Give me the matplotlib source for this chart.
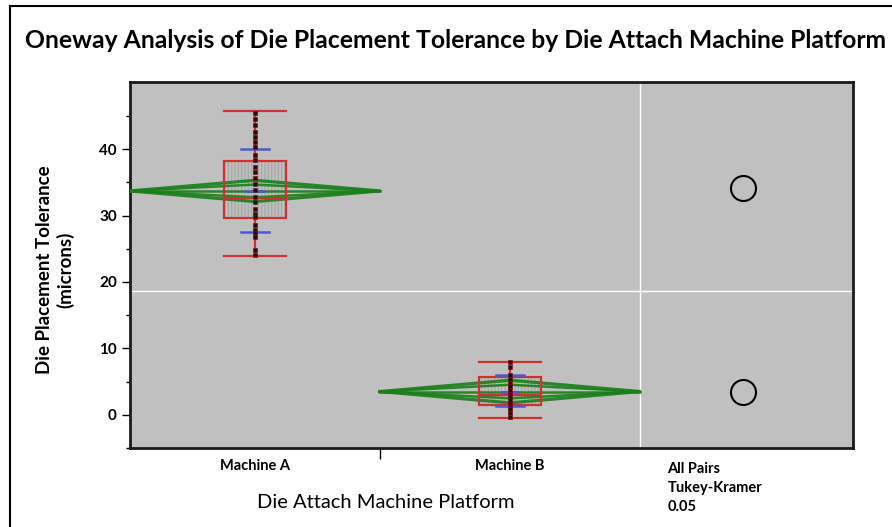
import matplotlib.pyplot as plt
import matplotlib.transforms as mtransforms
from matplotlib.patches import Rectangle
from matplotlib.lines import Line2D

plt.rcParams['font.family'] = ['Lato', 'DejaVu Sans']

# group summary values
groups = ['Machine A', 'Machine B']
means = [33.7, 3.5]
ci_low = [32.2, 1.8]
ci_high = [35.4, 5.2]
q1 = [29.6, 1.5]
medians = [32.6, 3.0]
q3 = [38.2, 5.7]
whisk_low = [23.9, -0.5]
whisk_high = [45.7, 7.9]
std_low = [27.5, 1.3]
std_high = [40.0, 6.0]
grand_mean = 18.7

points_a = [45.5, 44.6, 43.6, 42.6, 41.8, 41.1, 40.3, 39.1, 38.3, 37.3, 36.6,
            35.6, 34.8, 33.8, 32.8, 32.0, 31.0, 30.3, 29.8, 28.5, 27.8, 27.3,
            26.8, 24.8, 24.0]
points_b = [8.0, 7.2, 6.0, 5.4, 4.8, 4.3, 3.8, 3.2, 2.7, 2.2, 1.7, 1.2, 0.8,
            0.3, -0.4]
points = [points_a, points_b]

# circle centres for the comparison panel
circle_y = [34.1, 3.5]

# x layout: group A spans 0-1, B spans 1-2.04, circles panel 2.04-2.892
spans = [(0.0, 1.0), (1.0, 2.04)]
panel_x = 2.452
box_w = 0.25
std_w = 0.11

fig = plt.figure(figsize=(8.92, 5.27), dpi=100)
ax = fig.add_axes([130 / 892, 1 - 448 / 527, 723 / 892, 366 / 527])
ax.set_facecolor('#c0c0c0')
ax.set_xlim(0, 2.892)
ax.set_ylim(-5, 50.1)

# reference lines
ax.axhline(grand_mean, color='white', lw=1, zorder=1)
ax.axvline(spans[1][1], color='white', lw=1, zorder=1)

green = '#1a7f1a'
for i in range(2):
    x0, x1 = spans[i]
    xc = (x0 + x1) / 2
    m = means[i]
    half = (ci_high[i] - ci_low[i]) / 2
    # box with grey hatching
    ax.add_patch(Rectangle((xc - box_w / 2, q1[i]), box_w, q3[i] - q1[i],
                           facecolor='none', edgecolor='#a8a8a8', hatch='|||||',
                           lw=0, zorder=2))
    ax.add_patch(Rectangle((xc - box_w / 2, q1[i]), box_w, q3[i] - q1[i],
                           facecolor='none', edgecolor='#d03030', lw=1.6, zorder=4))
    ax.plot([xc - box_w / 2, xc + box_w / 2], [medians[i], medians[i]],
            color='#d03030', lw=1.6, zorder=4)
    # whiskers
    ax.plot([xc, xc], [q3[i], whisk_high[i]], color='#d03030', lw=1.6, zorder=4)
    ax.plot([xc, xc], [whisk_low[i], q1[i]], color='#d03030', lw=1.6, zorder=4)
    for w in (whisk_low[i], whisk_high[i]):
        ax.plot([xc - box_w / 2, xc + box_w / 2], [w, w], color='#d03030',
                lw=1.6, zorder=4)
    # means diamond
    ax.plot([x0, xc, x1, xc, x0], [m, m + half, m, m - half, m],
            color=green, lw=2.3, alpha=0.9, zorder=3)
    ax.plot([x0, xc, x1, xc, x0], [m, m + half * 0.6, m, m - half * 0.6, m],
            color=green, lw=1.8, alpha=0.9, zorder=3)
    ax.plot([x0, x1], [m, m], color=green, lw=1.8, alpha=0.9, zorder=3)
    # std dev lines
    for s in (std_low[i], std_high[i]):
        ax.plot([xc - std_w / 2, xc + std_w / 2], [s, s], color='#4a5ad0',
                lw=1.8, zorder=5)
    ax.plot([xc - 0.03, xc + 0.03], [m, m], color='#4a5ad0', lw=2, zorder=5)
    # raw points
    ax.plot([xc] * len(points[i]), points[i], 's', ms=3, color='#2a0a0a',
            mec='#7a1a1a', mew=0.5, zorder=6)

# comparison circles
ax.plot([panel_x] * 2, circle_y, 'o', ms=18, mfc='none', mec='black', mew=1.5,
        zorder=5)

for sp in ax.spines.values():
    sp.set_linewidth(2)
    sp.set_color('#1a1a1a')

ax.set_yticks([0, 10, 20, 30, 40])
ax.set_yticks([-5, 5, 15, 25, 35, 45], minor=True)
ax.tick_params(axis='y', which='major', length=6, width=1, labelsize=11)
ax.tick_params(axis='y', which='minor', length=3, width=1)
for lab in ax.get_yticklabels():
    lab.set_fontweight('bold')
ax.set_xticks([spans[0][1]])
ax.set_xticklabels([''])
ax.tick_params(axis='x', length=8, width=1)

trans = mtransforms.blended_transform_factory(ax.transData, fig.transFigure)
for i, g in enumerate(groups):
    xc = (spans[i][0] + spans[i][1]) / 2
    ax.text(xc, 1 - 466 / 527, g, transform=trans, ha='center', va='center',
            fontsize=10.5, fontweight='bold')
ax.text(2.15, 1 - 488 / 527, 'All Pairs\nTukey-Kramer\n0.05', transform=trans,
        ha='left', va='center', fontsize=10.5, fontweight='bold', linespacing=1.45)

fig.text(386 / 892, 1 - 502 / 527, 'Die Attach Machine Platform', ha='center',
         va='center', fontsize=14.5)
fig.text(55 / 892, 1 - 270 / 527, 'Die Placement Tolerance\n(microns)',
         ha='center', va='center', rotation=90, fontsize=13.5, fontweight='bold')
fig.text(25 / 892, 1 - 40 / 527,
         'Oneway Analysis of Die Placement Tolerance by Die Attach Machine Platform',
         ha='left', va='center', fontsize=17.8, fontweight='bold')

# screenshot frame on left and top
fig.add_artist(Line2D([10 / 892, 10 / 892], [0, 1 - 6 / 527], color='black',
                      lw=1.5, transform=fig.transFigure))
fig.add_artist(Line2D([10 / 892, 1], [1 - 6 / 527, 1 - 6 / 527], color='black',
                      lw=1.5, transform=fig.transFigure))

fig.savefig('out.png', dpi=100)
